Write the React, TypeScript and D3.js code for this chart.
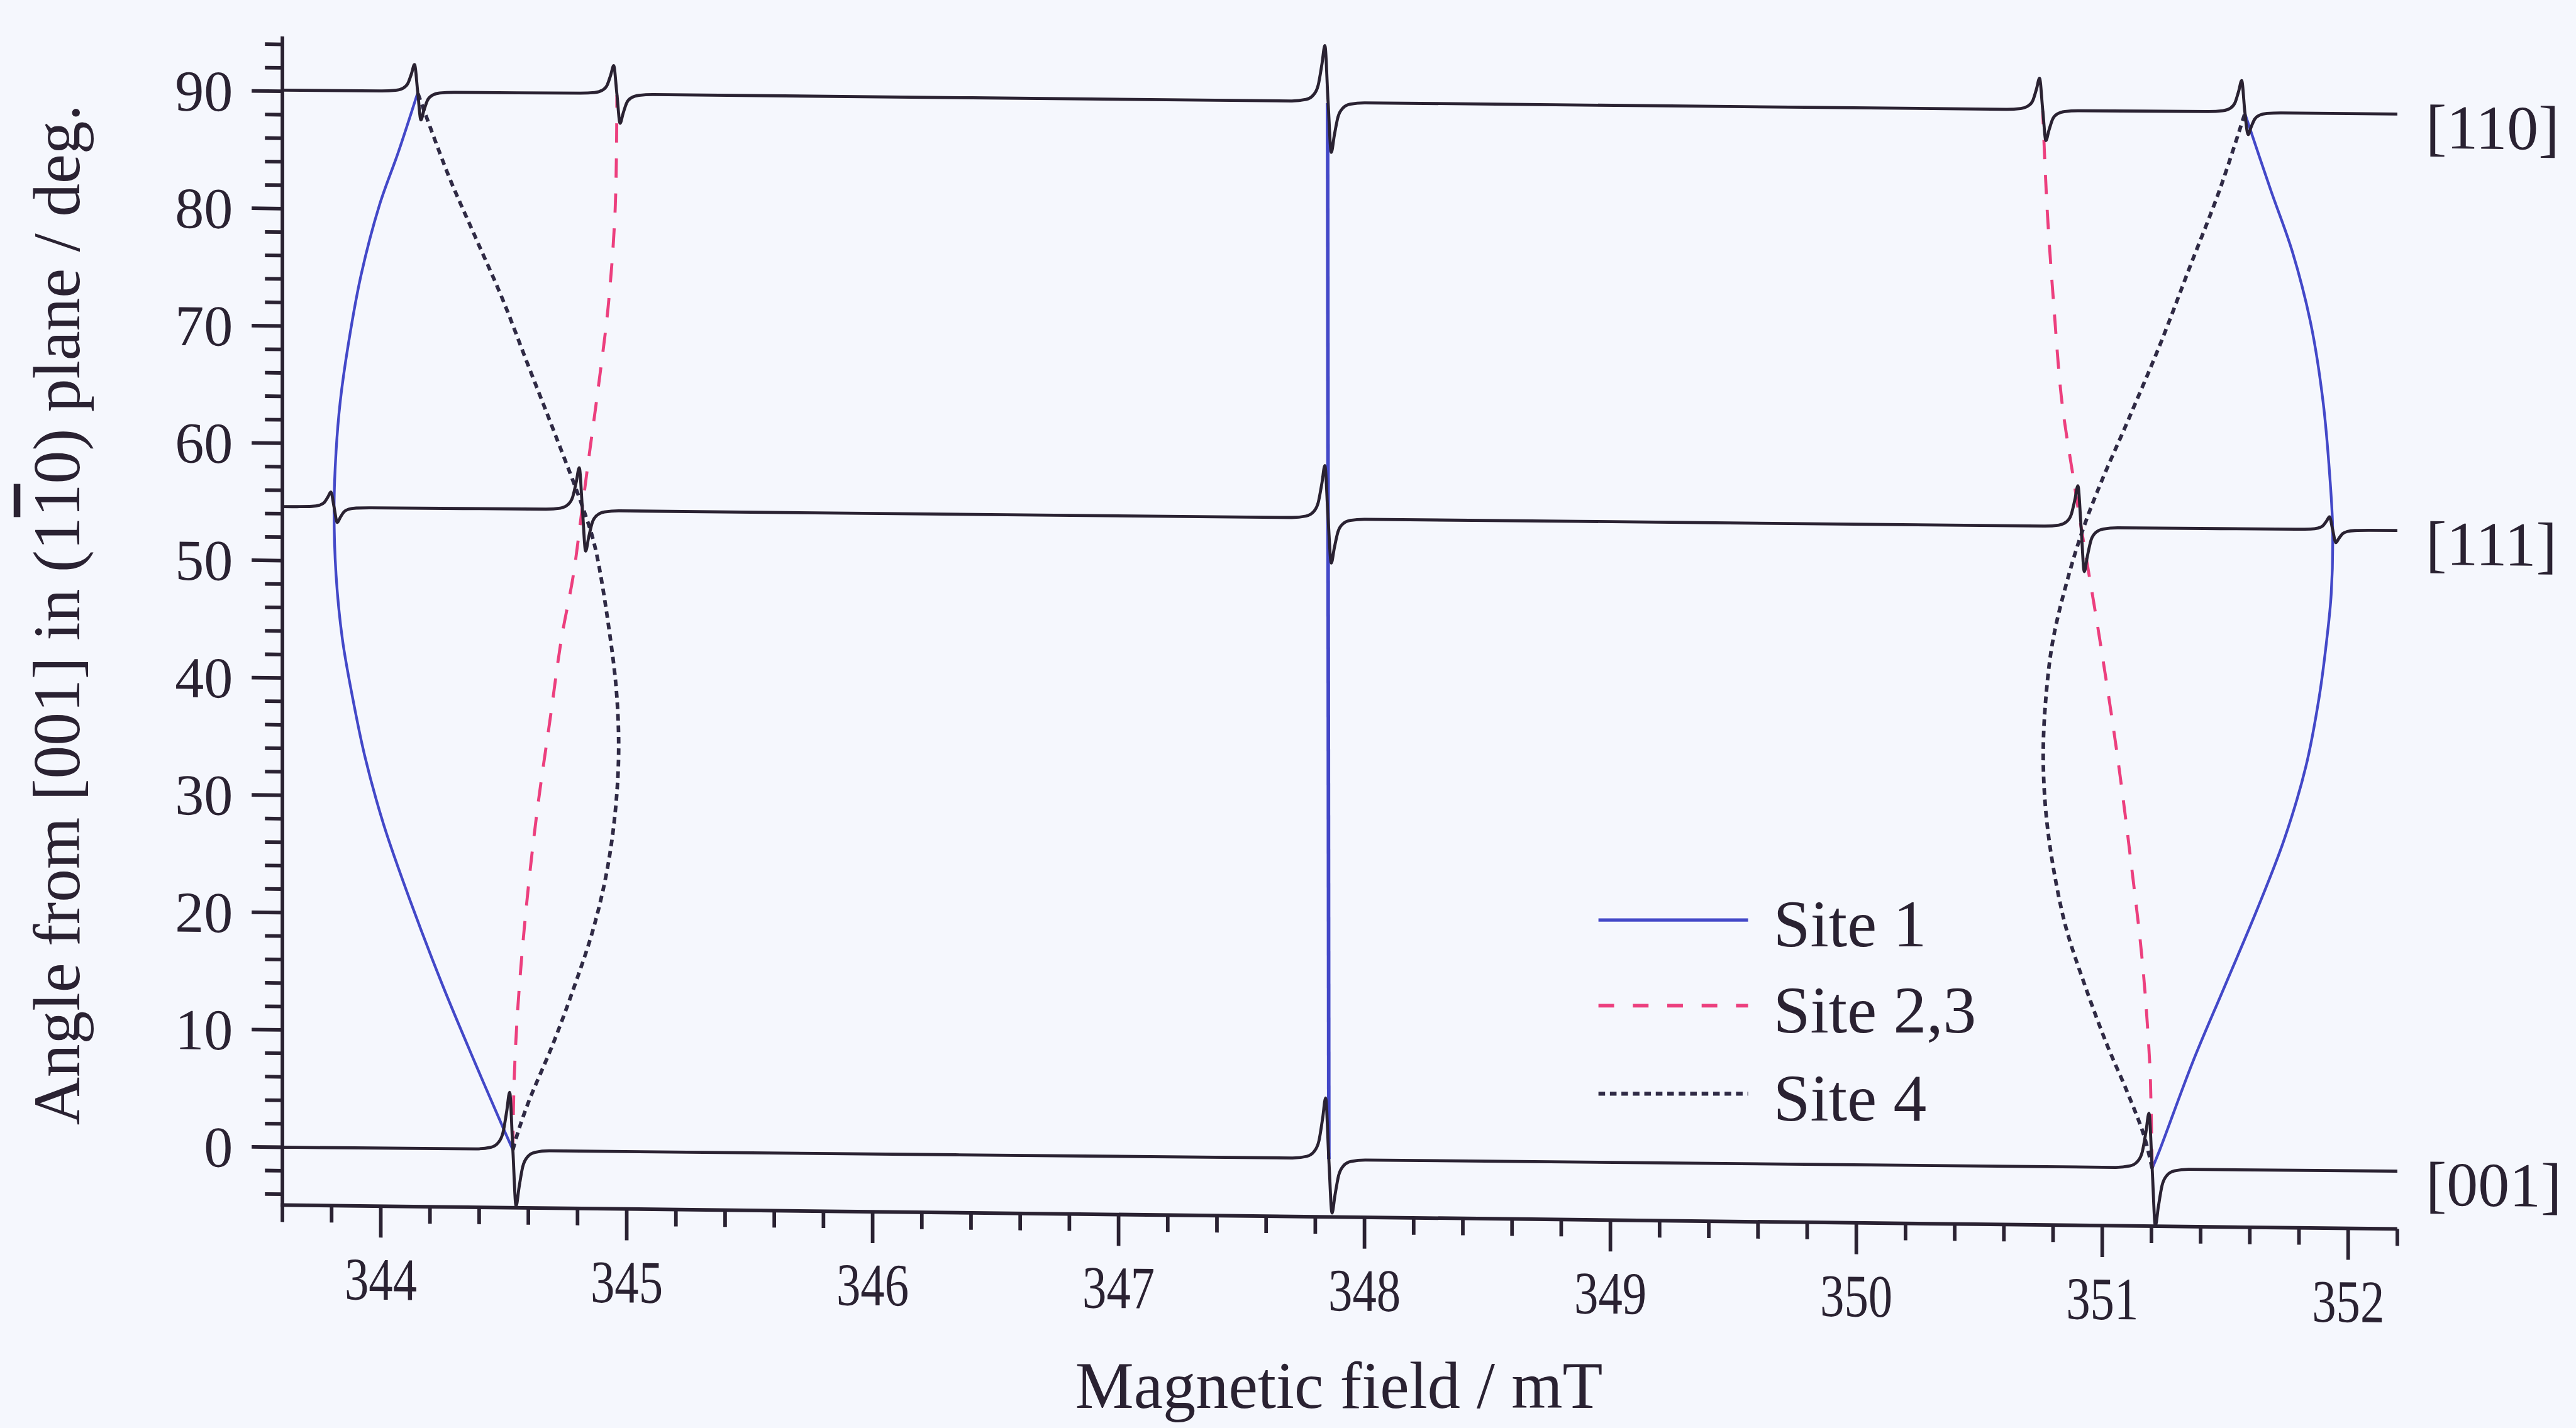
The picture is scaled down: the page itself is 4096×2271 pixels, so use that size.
import * as d3 from 'd3';

// ---- axes ----
const FIELD_DOMAIN: [number, number] = [343.6, 352.2];
const ANGLE_DOMAIN: [number, number] = [-4.93, 94.68];
const FIELD_TICKS = [344, 345, 346, 347, 348, 349, 350, 351, 352];
const ANGLE_TICKS = [0, 10, 20, 30, 40, 50, 60, 70, 80, 90];

// ---- spectra: one row per crystal direction ----
const SPEC_LABELS = ['[110]', '[111]', '[001]'];
const SPEC_BASE = [90.1, 54.6, 0];
const SPEC_110_POS = [344.15, 344.96, 347.852, 350.758, 351.58];
const SPEC_110_UP = [2.3, 2.4, 4.8, 2.7, 2.7];
const SPEC_110_DOWN = [2.4, 2.5, 4.3, 2.6, 1.9];
const SPEC_111_POS = [343.81, 344.82, 347.852, 350.914, 351.937];
const SPEC_111_UP = [1.3, 3.6, 4.5, 3.5, 1.1];
const SPEC_111_DOWN = [1.3, 3.5, 3.8, 3.8, 1.1];
const SPEC_001_POS = [344.537, 347.855, 351.203];
const SPEC_001_UP = [4.9, 5.2, 4.7];
const SPEC_001_DOWN = [4.8, 4.6, 4.9];

// first-derivative line shape as seen in the picture (offset in mT, relative level)
const SHAPE_OFFSET = [-0.15, -0.09, -0.06, -0.04, -0.025, -0.013, 0, 0.013, 0.025, 0.04, 0.06, 0.09, 0.15];
const SHAPE_LEVEL = [0.01, 0.04, 0.12, 0.3, 0.67, 1, 0, -1, -0.67, -0.3, -0.12, -0.04, -0.01];

// ---- road map: [angle deg, field mT] ----
const SITE1_LOW: [number, number][] = [
  [0, 344.537], [1.84, 344.498], [7.39, 344.383], [13.92, 344.252], [21.1, 344.12],
  [27.64, 344.011], [33.5, 343.934], [38.42, 343.885], [43.33, 343.844], [48.84, 343.818],
  [54.6, 343.81], [59.33, 343.818], [63.6, 343.835], [68.52, 343.868], [74.44, 343.92],
  [80.36, 343.994], [84.97, 344.072], [90, 344.15],
];
const SITE1_MID: [number, number][] = [[0, 347.855], [90, 347.85]];
const SITE1_HIGH: [number, number][] = [
  [0, 351.203], [1.48, 351.232], [9.05, 351.367], [15.64, 351.499], [22.23, 351.631],
  [28.16, 351.74], [34.4, 351.828], [40.32, 351.882], [45.25, 351.913], [49.12, 351.931],
  [54.6, 351.937], [58.95, 351.926], [65.5, 351.898], [72.05, 351.849], [78.27, 351.773],
  [83.5, 351.685], [90, 351.58],
];
const SITE23_LOW: [number, number][] = [
  [0, 344.537], [5.79, 344.542], [12.35, 344.558], [20.56, 344.591], [28.78, 344.635],
  [36.97, 344.69], [43.54, 344.734], [49.06, 344.783], [54.6, 344.818], [58.92, 344.845],
  [65.48, 344.887], [72.05, 344.925], [80.25, 344.953], [90, 344.96],
];
const SITE23_HIGH: [number, number][] = [
  [0, 351.203], [5.73, 351.198], [9.0, 351.193], [17.2, 351.165], [25.38, 351.121],
  [35.21, 351.061], [45.02, 350.99], [54.6, 350.914], [58.71, 350.883], [65.25, 350.836],
  [73.45, 350.803], [81.64, 350.776], [90, 350.758],
];
const SITE4_LOW: [number, number][] = [
  [0, 344.537], [1.53, 344.558], [4.16, 344.602], [9.11, 344.701], [14.05, 344.788],
  [18.98, 344.865], [23.91, 344.92], [28.84, 344.953], [33.76, 344.967], [38.68, 344.96],
  [43.59, 344.934], [51.38, 344.872], [54.6, 344.825], [60.85, 344.712], [66.73, 344.602],
  [72.6, 344.493], [77.83, 344.383], [83.05, 344.274], [90, 344.15],
];
const SITE4_HIGH: [number, number][] = [
  [0, 351.203], [2.77, 351.17], [6.37, 351.104], [10.61, 351.017], [15.5, 350.93],
  [20.4, 350.853], [25.31, 350.803], [30.22, 350.771], [35.14, 350.76], [40.05, 350.771],
  [44.98, 350.8], [50.5, 350.864], [54.6, 350.925], [58.41, 350.995], [63.68, 351.104],
  [70.27, 351.236], [76.85, 351.356], [83.44, 351.477], [90, 351.58],
];

const LEGEND_LABELS = ['Site 1', 'Site 2,3', 'Site 4'];

// ---- layout (reference pixels, viewBox scales to the window) ----
const W = 4269;
const H = 2367;
const LEFT = 468;
const RIGHT = 3973;
const TOP = 60.3;
const BOTTOM = 1997.5;
const SKEW_DEG = (Math.atan(0.0113) * 180) / Math.PI; // the photographed page is slightly sheared

const INK = '#2a2232';
const BLUE = '#4348c8';
const PINK = '#ec3f7e';
const DOT = '#2f2a45';
const FONT = '"Liberation Serif", "Times New Roman", serif';

const x = d3.scaleLinear().domain(FIELD_DOMAIN).range([LEFT, RIGHT]);
const y = d3.scaleLinear().domain(ANGLE_DOMAIN).range([BOTTOM, TOP]);

function spectrum(base: number, pos: number[], up: number[], down: number[]): [number, number][] {
  const pts: [number, number][] = [[FIELD_DOMAIN[0], base]];
  pos.forEach((p, i) => {
    SHAPE_OFFSET.forEach((o, k) => {
      const l = SHAPE_LEVEL[k];
      pts.push([p + o, base + (l > 0 ? up[i] * l : down[i] * l)]);
    });
  });
  pts.push([FIELD_DOMAIN[1], base]);
  return pts.sort((a, b) => a[0] - b[0]);
}

const traces = [
  spectrum(SPEC_BASE[0], SPEC_110_POS, SPEC_110_UP, SPEC_110_DOWN),
  spectrum(SPEC_BASE[1], SPEC_111_POS, SPEC_111_UP, SPEC_111_DOWN),
  spectrum(SPEC_BASE[2], SPEC_001_POS, SPEC_001_UP, SPEC_001_DOWN),
];

const traceLine = d3
  .line<[number, number]>()
  .x(d => x(d[0]))
  .y(d => y(d[1]))
  .curve(d3.curveMonotoneX);

const roadLine = d3
  .line<[number, number]>()
  .x(d => x(d[1]))
  .y(d => y(d[0]))
  .curve(d3.curveCatmullRom.alpha(0.5));

const minorAngle = d3.range(-4, 95, 2).filter(v => v % 10 !== 0);
const minorField = d3
  .range(3436, 3523, 2)
  .map(v => v / 10)
  .filter(v => Math.abs(v - Math.round(v)) > 0.01);

const legendStyles = [
  { stroke: BLUE, width: 5.5, dash: undefined },
  { stroke: PINK, width: 6, dash: '26,31' },
  { stroke: DOT, width: 6.5, dash: '11,8' },
];

export default function App() {
  return (
    <svg
      width={4096}
      height={2271}
      viewBox={`0 0 ${W} ${H}`}
      style={{ position: 'absolute', left: 0, top: 0, display: 'block' }}
      fontFamily={FONT}
    >
      <rect x={0} y={0} width={W} height={H} fill="#f5f7fd" />

      <g transform={`translate(${LEFT},0) skewY(${SKEW_DEG}) translate(${-LEFT},0)`}>
        {/* road map curves */}
        <g fill="none">
          {[SITE1_LOW, SITE1_MID, SITE1_HIGH].map((d, i) => (
            <path key={'s1' + i} d={roadLine(d) || ''} stroke={BLUE} strokeWidth={i === 1 ? 6 : 4.5} />
          ))}
          {[SITE23_LOW, SITE23_HIGH].map((d, i) => (
            <path key={'s23' + i} d={roadLine(d) || ''} stroke={PINK} strokeWidth={5} strokeDasharray="32,26" />
          ))}
          {[SITE4_LOW, SITE4_HIGH].map((d, i) => (
            <path key={'s4' + i} d={roadLine(d) || ''} stroke={DOT} strokeWidth={6} strokeDasharray="11,8" />
          ))}
        </g>

        {/* spectra */}
        <g fill="none" stroke={INK} strokeWidth={5} strokeLinejoin="round">
          {traces.map((t, i) => (
            <path key={'t' + i} d={traceLine(t) || ''} />
          ))}
        </g>

        {/* axes */}
        <g stroke={INK} strokeWidth={6}>
          <line x1={LEFT} x2={LEFT} y1={TOP} y2={BOTTOM + 3} />
          <line x1={LEFT - 3} x2={RIGHT} y1={BOTTOM} y2={BOTTOM} />
          {ANGLE_TICKS.map(v => (
            <line key={'ya' + v} x1={LEFT - 51} x2={LEFT} y1={y(v)} y2={y(v)} />
          ))}
          {minorAngle.map(v => (
            <line key={'yi' + v} x1={LEFT - 29} x2={LEFT} y1={y(v)} y2={y(v)} />
          ))}
          {FIELD_TICKS.map(v => (
            <line key={'xa' + v} x1={x(v)} x2={x(v)} y1={BOTTOM} y2={BOTTOM + 52} />
          ))}
          {minorField.map(v => (
            <line key={'xi' + v} x1={x(v)} x2={x(v)} y1={BOTTOM} y2={BOTTOM + 28} />
          ))}
        </g>
        <g fill={INK}>
          {ANGLE_TICKS.map(v => (
            <text key={'yl' + v} x={386} y={y(v)} dy="0.35em" textAnchor="end" fontSize={96}>
              {v}
            </text>
          ))}
          {FIELD_TICKS.map(v => (
            <text
              key={'xl' + v}
              transform={`translate(${x(v)},${BOTTOM + 155}) scale(0.8,1)`}
              textAnchor="middle"
              fontSize={100}
            >
              {v}
            </text>
          ))}
          {SPEC_LABELS.map((s, i) => (
            <text key={s} x={4020} y={y(SPEC_BASE[i]) + 56} fontSize={104}>
              {s}
            </text>
          ))}
        </g>
      </g>

      {/* legend */}
      {LEGEND_LABELS.map((s, i) => {
        const ly = [1525, 1667, 1813][i];
        const st = legendStyles[i];
        return (
          <g key={s}>
            <line x1={2649} x2={2897} y1={ly} y2={ly} stroke={st.stroke} strokeWidth={st.width} strokeDasharray={st.dash} />
            <text x={2939} y={ly + 44} fontSize={110} fill={INK}>
              {s}
            </text>
          </g>
        );
      })}

      {/* axis titles */}
      <text
        x={2219}
        y={2334}
        textAnchor="middle"
        fontSize={110}
        textLength={874}
        lengthAdjust="spacingAndGlyphs"
        fill={INK}
      >
        Magnetic field / mT
      </text>
      <text transform="translate(131,1019) rotate(-90)" textAnchor="middle" fontSize={110} fill={INK}>
        Angle from [001] in (1<tspan style={{ textDecoration: 'overline' }}>1</tspan>0) plane / deg.
      </text>
    </svg>
  );
}
